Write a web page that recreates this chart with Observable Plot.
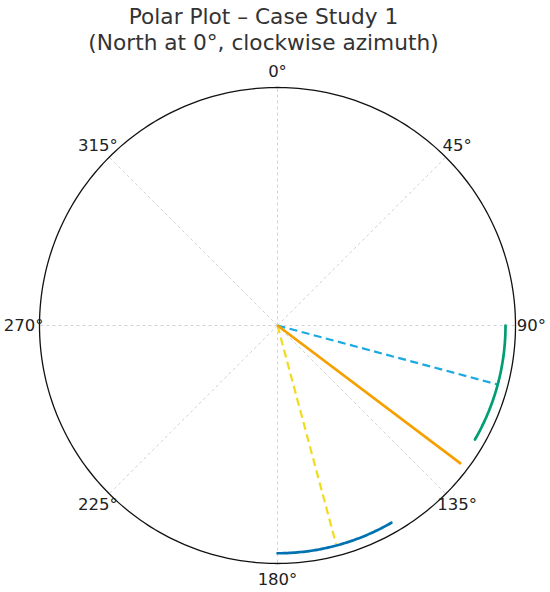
<!DOCTYPE html>
<html><head><meta charset="utf-8">
<script src="https://cdn.jsdelivr.net/npm/d3@7"></script>
<script src="https://cdn.jsdelivr.net/npm/@observablehq/plot@0.6"></script>
<style>
body{margin:0;background:#fff;font-family:"DejaVu Sans",sans-serif;}
#title{width:550px;height:57px;text-align:center;font-size:21.7px;line-height:26px;color:#333;padding-top:4px;padding-right:23px;box-sizing:border-box;}
#chart svg{display:block;}
</style></head><body>
<div id="title">Polar Plot – Case Study 1<br>(North at 0°, clockwise azimuth)</div>
<div id="chart"></div>
<script>
// ---- data ----
const tickAngles = [0, 45, 90, 135, 180, 225, 270, 315];
const tickLabels = ["0°", "45°", "90°", "135°", "180°", "225°", "270°", "315°"];

const rayNames    = ["Ray A", "Ray B", "Ray C"];
const rayAzimuths = [105, 127, 165];
const rayRadii    = [0.955, 0.966, 0.95];
const rayColors   = ["#1aa9e0", "#f5a000", "#f0dc1a"];
const rayDashed   = [true, false, true];

const arcNames   = ["Arc A", "Arc B"];
const arcStart   = [90, 150];
const arcEnd     = [120, 180];
const arcRadius  = [0.958, 0.957];
const arcColors  = ["#009e73", "#0072b2"];

const rMax = 1;
const labelRadius = 1.067;

// ---- helpers ----
const rad = d => d * Math.PI / 180;
const px = (az, r) => r * Math.sin(rad(az));
const py = (az, r) => r * Math.cos(rad(az));

const spokes = tickAngles.map(a => ({x1: 0, y1: 0, x2: px(a, rMax), y2: py(a, rMax)}));
const labels = tickAngles.map((a, i) => ({x: px(a, labelRadius), y: py(a, labelRadius), t: tickLabels[i]}));
const outline = d3.range(0, 360.5, 1).map(a => ({x: px(a, rMax), y: py(a, rMax)}));

const rays = rayNames.map((n, i) => ({
  name: n, color: rayColors[i], dashed: rayDashed[i],
  x1: 0, y1: 0, x2: px(rayAzimuths[i], rayRadii[i]), y2: py(rayAzimuths[i], rayRadii[i])
}));

const arcPts = arcNames.flatMap((n, i) =>
  d3.range(arcStart[i], arcEnd[i] + 0.01, 0.5).map(a => ({name: n, color: arcColors[i], x: px(a, arcRadius[i]), y: py(a, arcRadius[i])}))
);

const W = 550, H = 535;
const plot = Plot.plot({
  width: W, height: H,
  marginLeft: 39, marginRight: 35, marginTop: 30, marginBottom: 29,
  x: {domain: [-1, 1], axis: null},
  y: {domain: [-1, 1], axis: null},
  style: {fontFamily: "DejaVu Sans, sans-serif", background: "white"},
  marks: [
    Plot.link(spokes, {x1: "x1", y1: "y1", x2: "x2", y2: "y2", stroke: "#c8c8c8", strokeWidth: 0.8, strokeDasharray: "3,3"}),
    Plot.line(outline, {x: "x", y: "y", stroke: "#111", strokeWidth: 1.3}),
    Plot.link(rays.filter(d => d.dashed), {x1: "x1", y1: "y1", x2: "x2", y2: "y2", stroke: d => d.color, strokeWidth: 2.2, strokeDasharray: "8,4.5"}),
    Plot.link(rays.filter(d => !d.dashed), {x1: "x1", y1: "y1", x2: "x2", y2: "y2", stroke: d => d.color, strokeWidth: 2.7}),
    Plot.line(arcPts, {x: "x", y: "y", z: "name", stroke: d => d.color, strokeWidth: 2.7}),
    Plot.text(labels, {x: "x", y: "y", text: "t", fontSize: 16.5, fill: "#222", textAnchor: "middle", lineAnchor: "middle"})
  ]
});
document.getElementById("chart").appendChild(plot);
</script>
</body></html>
